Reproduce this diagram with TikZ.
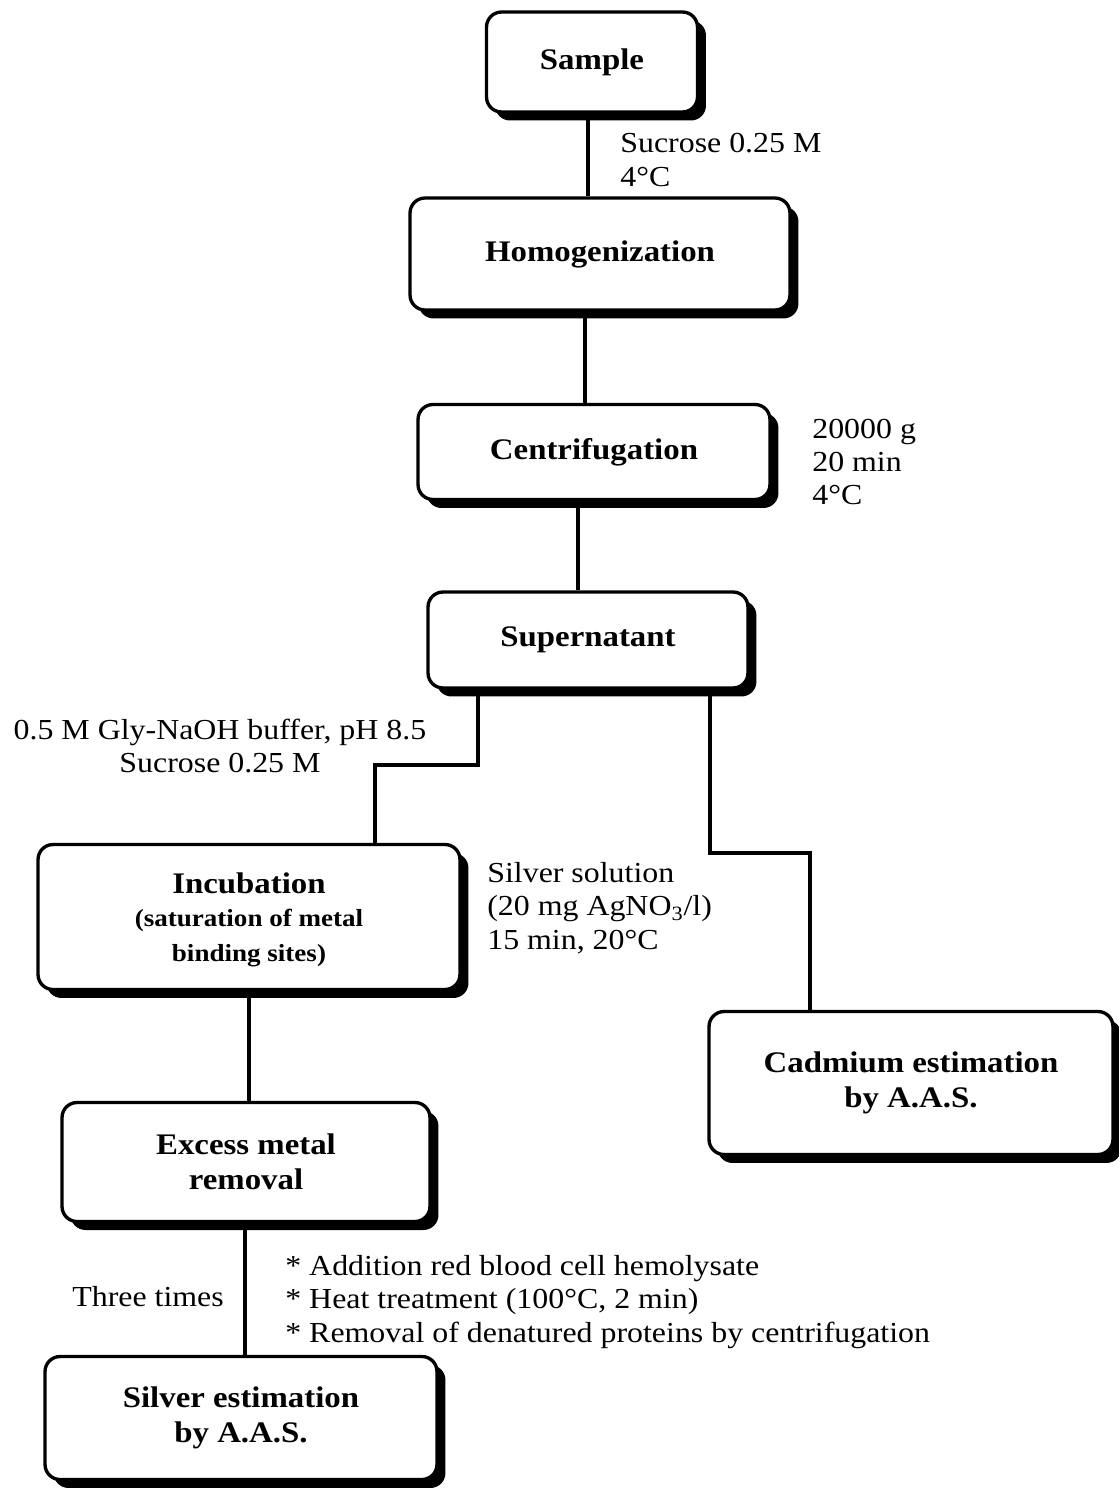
\documentclass[tikz,border=0pt]{standalone}
\usepackage{fontspec}
\setmainfont[FakeStretch=1.1]{Liberation Serif}
\usetikzlibrary{shadows}

\newcommand\subtxt{\fontsize{14}{14.5}\selectfont}

\tikzset{
  box/.style={draw, line width=1.9pt, rounded corners=0.3cm, fill=white,
    align=center, inner sep=0pt, font=\bfseries\fontsize{17}{20}\selectfont,
    drop shadow={shadow xshift=0.17cm, shadow yshift=-0.17cm, fill=black, opacity=1}},
  lbl/.style={align=left, inner sep=0pt, font=\fontsize{16.5}{19}\selectfont},
  link/.style={line width=1.9pt}
}

\begin{document}
\begin{tikzpicture}[x=0.02cm,y=-0.02cm]
  \useasboundingbox (0,0) rectangle (1119,1488);
  % process steps
  \node[box, minimum width=4.22cm, minimum height=2cm] (sam) at (592,62) {Sample};
  \node[box, minimum width=7.6cm, minimum height=2.24cm] (hom) at (600,254) {Homogenization};
  \node[box, minimum width=7.04cm, minimum height=1.9cm] (cen) at (594,452) {Centrifugation};
  \node[box, minimum width=6.4cm, minimum height=1.92cm] (sup) at (588,640) {Supernatant};
  \node[box, minimum width=8.44cm, minimum height=2.9cm, text depth=0pt] (inc) at (249,917)
    {Incubation\\[-1pt]\subtxt (saturation of metal\\\subtxt binding sites)};
  \node[box, minimum width=8.08cm, minimum height=2.86cm] (cad) at (911,1083)
    {Cadmium estimation\\by A.A.S.};
  \node[box, minimum width=7.36cm, minimum height=2.38cm] (exc) at (246,1162)
    {Excess metal\\removal};
  \node[box, minimum width=7.84cm, minimum height=2.46cm] (sil) at (241,1418)
    {Silver estimation\\by A.A.S.};
  % connectors
  \coordinate (bend1) at (375,765);
  \coordinate (bend2) at (810,853);
  \draw[link] ([xshift=-0.08cm]sam.south) -- ([xshift=-0.08cm]sam.south |- hom.north);
  \draw[link] ([xshift=-0.3cm]hom.south) -- ([xshift=-0.3cm]hom.south |- cen.north);
  \draw[link] ([xshift=-0.32cm]cen.south) -- ([xshift=-0.32cm]cen.south |- sup.north);
  \draw[link] ([xshift=-2.2cm]sup.south) |- (bend1) -- (bend1 |- inc.north);
  \draw[link] ([xshift=2.44cm]sup.south) |- (bend2) -- (bend2 |- cad.north);
  \draw[link] (inc.south) -- (inc.south |- exc.north);
  \draw[link] ([xshift=-0.02cm]exc.south) -- ([xshift=-0.02cm]exc.south |- sil.north);
  % conditions
  \node[lbl, anchor=west] (suc) at (620,160) {Sucrose 0.25 M\\4°C};
  \node[lbl, anchor=west] (spd) at (812,462) {20000 g\\20 min\\4°C};
  \node[lbl, align=center] (gly) at (220,746) {0.5 M Gly-NaOH buffer, pH 8.5\\Sucrose 0.25 M};
  \node[lbl, anchor=north west] (agn) at (487,862)
    {Silver solution\\(20 mg AgNO\textsubscript{3}/l)\\15 min, 20°C};
  \node[lbl, anchor=west] (thr) at (72,1297) {Three times};
  \node[lbl, anchor=west] (stp) at (285,1302)
    {* Addition red blood cell hemolysate\\* Heat treatment (100°C, 2 min)\\* Removal of denatured proteins by centrifugation};
\end{tikzpicture}
\end{document}
